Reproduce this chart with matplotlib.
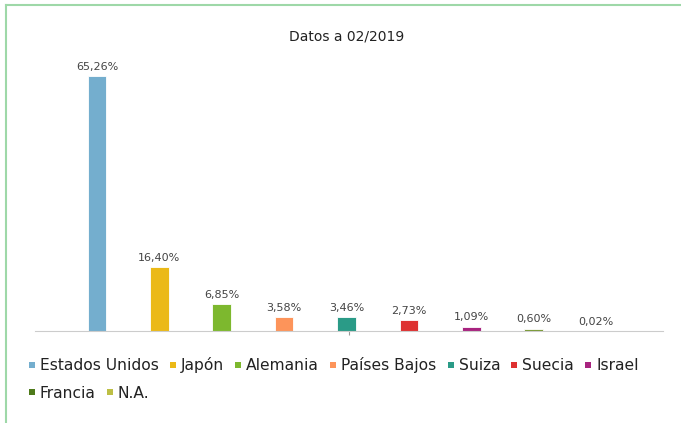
import matplotlib
matplotlib.use("Agg")
import matplotlib.pyplot as plt
from matplotlib.lines import Line2D

title = "Datos a 02/2019"
countries = ["Estados Unidos", "Japón", "Alemania", "Países Bajos", "Suiza",
             "Suecia", "Israel", "Francia", "N.A."]
values = [65.26, 16.40, 6.85, 3.58, 3.46, 2.73, 1.09, 0.60, 0.02]
labels = ["65,26%", "16,40%", "6,85%", "3,58%", "3,46%", "2,73%", "1,09%", "0,60%", "0,02%"]
bar_colors = ["#74AECE", "#EBB917", "#7DB82E", "#FD945A", "#2A9B87",
              "#DE3131", "#A8237F", "#7A9A35", "#BDBF45"]
legend_colors = ["#74AECE", "#EBB917", "#7DB82E", "#FD945A", "#2A9B87",
                 "#DE3131", "#A8237F", "#4E7A1A", "#BDBF45"]

W, H = 681, 423
fig = plt.figure(figsize=(W / 100, H / 100), dpi=100)
fig.patch.set_facecolor("white")

# frame (top and left green lines)
fig.add_artist(Line2D([6 / W, 6 / W], [0, 1 - 5 / H], transform=fig.transFigure,
                      color="#9ED8A8", lw=1.5))
fig.add_artist(Line2D([6 / W, 1], [1 - 5 / H, 1 - 5 / H], transform=fig.transFigure,
                      color="#9ED8A8", lw=1.5))

x0, x1 = 35, 663
ybase, ytop = 331, 60
ax = fig.add_axes([x0 / W, (H - ybase) / H, (x1 - x0) / W, (ybase - ytop) / H])
pxu = 62.375
xs = list(range(len(values)))
ax.set_xlim((x0 - 97) / pxu, (x1 - 97) / pxu)
ax.set_ylim(0, (ybase - ytop) / 3.907)

ax.bar(xs, values, width=0.30, color=bar_colors, edgecolor="white", linewidth=0.6)
for x, v, l in zip(xs, values, labels):
    ax.text(x, v + 1.1, l, ha="center", va="bottom", fontsize=8, color="#444444")

for s in ["top", "right", "left"]:
    ax.spines[s].set_visible(False)
ax.spines["bottom"].set_color("#CCCCCC")
ax.spines["bottom"].set_linewidth(0.8)
mid = sum(ax.get_xlim()) / 2
ax.set_xticks([mid])
ax.set_xticklabels([""])
ax.tick_params(axis="x", length=3, color="#999999")
ax.set_yticks([])

fig.text(347 / W, 1 - 37 / H, title, ha="center", va="center", fontsize=10, color="#222222")

def handles(idx):
    return [Line2D([], [], marker="s", linestyle="none", markersize=4,
                   markerfacecolor=legend_colors[i], markeredgewidth=0) for i in idx]

r1 = list(range(7))
r2 = [7, 8]
kw = dict(frameon=False, fontsize=11.2, handlelength=0.6, handletextpad=0.2,
          columnspacing=0.62, labelcolor="#222222", borderpad=0, borderaxespad=0)
leg1 = fig.legend(handles(r1), [countries[i] for i in r1], ncol=7,
                  loc="center left", bbox_to_anchor=(27.5 / W, 1 - 365 / H), **kw)
leg2 = fig.legend(handles(r2), [countries[i] for i in r2], ncol=2,
                  loc="center left", bbox_to_anchor=(27.5 / W, 1 - 393 / H), **kw)

fig.savefig("out.png", dpi=100)
